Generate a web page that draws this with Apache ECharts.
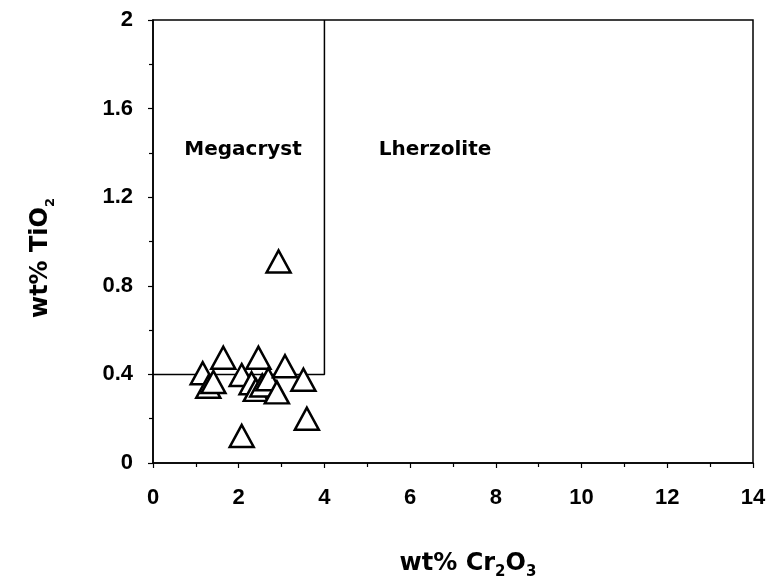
<!DOCTYPE html>
<html>
<head>
<meta charset="utf-8">
<script src="https://cdn.jsdelivr.net/npm/echarts@6/dist/echarts.min.js"></script>
<style>html,body{margin:0;padding:0;background:#fff}#c{width:770px;height:586px}</style>
</head>
<body>
<div id="c"></div>
<script>
// wt% Cr2O3 (x) and wt% TiO2 (y) of samples
var cr2o3 = [1.16, 1.29, 1.41, 1.64, 2.07, 2.07, 2.30, 2.40, 2.46, 2.55, 2.69, 2.89, 2.93, 3.08, 3.51, 3.59];
var tio2  = [0.405, 0.344, 0.366, 0.475, 0.397, 0.122, 0.36, 0.33, 0.475, 0.35, 0.378, 0.319, 0.91, 0.437, 0.376, 0.20];
// field boundary
var boundaryX = [0, 4, 4];
var boundaryY = [0.4, 0.4, 2];
// field labels
var fieldNames = ['Megacryst', 'Lherzolite'];
var fieldX = [2.1, 6.58];
var fieldY = [1.413, 1.413];
var xTicks = [0, 2, 4, 6, 8, 10, 12, 14];
var yTicks = [0, 0.4, 0.8, 1.2, 1.6, 2];

var chart = echarts.init(document.getElementById('c'));
var pts = cr2o3.map(function (x, i) { return [x, tio2[i]]; });
var bnd = boundaryX.map(function (x, i) { return [x, boundaryY[i]]; });
var lbl = fieldNames.map(function (n, i) { return { value: [fieldX[i], fieldY[i]], name: n }; });
var tickFont = { fontFamily: 'Liberation Sans', fontWeight: 'bold', fontSize: 22, color: '#000' };

chart.setOption({
  animation: false,
  backgroundColor: '#fff',
  grid: { left: 153, right: 17, top: 20, bottom: 123, show: true, borderColor: '#000', borderWidth: 1.5 },
  xAxis: {
    type: 'value', min: xTicks[0], max: xTicks[xTicks.length - 1], interval: 2,
    axisLine: { show: true, onZero: false, lineStyle: { color: '#000', width: 1.5 } },
    axisTick: { show: true, length: 5, lineStyle: { color: '#000', width: 1.2 } },
    minorTick: { show: true, splitNumber: 2, length: 4, lineStyle: { color: '#000', width: 1.2 } },
    splitLine: { show: false },
    axisLabel: Object.assign({ margin: 24, formatter: function (v) { return String(v); } }, tickFont)
  },
  yAxis: {
    type: 'value', min: yTicks[0], max: yTicks[yTicks.length - 1], interval: 0.4,
    axisLine: { show: true, onZero: false, lineStyle: { color: '#000', width: 1.5 } },
    axisTick: { show: true, length: 5, lineStyle: { color: '#000', width: 1.2 } },
    minorTick: { show: true, splitNumber: 2, length: 4, lineStyle: { color: '#000', width: 1.2 } },
    splitLine: { show: false },
    axisLabel: Object.assign({ margin: 20, formatter: function (v) { return String(Math.round(v * 10) / 10); } }, tickFont)
  },
  graphic: [
    {
      type: 'text', x: 468, y: 561,
      style: {
        text: '{a|wt% Cr}{s|2}{a|O}{s|3}',
        align: 'center', verticalAlign: 'middle',
        rich: {
          a: { fontFamily: 'DejaVu Sans', fontWeight: 'bold', fontSize: 24, fill: '#000', lineHeight: 30, verticalAlign: 'bottom' },
          s: { fontFamily: 'DejaVu Sans', fontWeight: 'bold', fontSize: 15, fill: '#000', lineHeight: 30, verticalAlign: 'bottom', padding: [0, 0, -4, 0] }
        }
      }
    },
    {
      type: 'text', x: 38, y: 258, rotation: Math.PI / 2,
      style: {
        text: '{a|wt% TiO}{s|2}',
        align: 'center', verticalAlign: 'middle',
        rich: {
          a: { fontFamily: 'DejaVu Sans', fontWeight: 'bold', fontSize: 24, fill: '#000', lineHeight: 30, verticalAlign: 'bottom' },
          s: { fontFamily: 'DejaVu Sans', fontWeight: 'bold', fontSize: 13, fill: '#000', lineHeight: 30, verticalAlign: 'bottom', padding: [0, 0, -4, 0] }
        }
      }
    }
  ],
  series: [
    {
      type: 'line', data: bnd, symbol: 'none', silent: true,
      lineStyle: { color: '#000', width: 1.5 }, z: 2
    },
    {
      type: 'scatter', data: lbl, symbolSize: 1, silent: true,
      itemStyle: { opacity: 0 },
      label: {
        show: true, position: 'inside', formatter: function (p) { return p.name; },
        fontFamily: 'DejaVu Sans', fontWeight: 'bold', fontSize: 20, color: '#000',
        textBorderWidth: 0, textBorderColor: 'transparent', opacity: 1
      }, z: 3
    },
    {
      type: 'scatter', data: pts, symbol: 'triangle', symbolSize: [24, 22],
      itemStyle: { color: '#fff', borderColor: '#000', borderWidth: 2.5, opacity: 1 }, z: 4
    }
  ]
});
</script>
</body>
</html>
